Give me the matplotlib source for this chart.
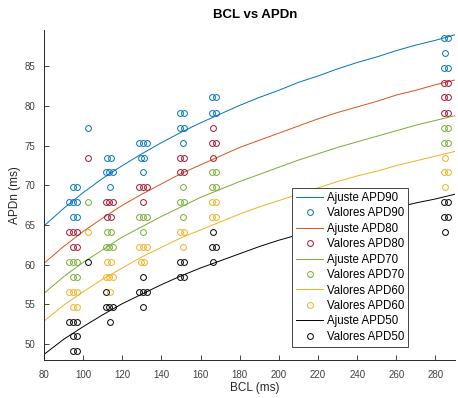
import matplotlib
matplotlib.use("Agg")
import matplotlib.pyplot as plt

plt.rcParams['font.family'] = ['Liberation Sans', 'DejaVu Sans']

# Measured APD values (ms) against basic cycle length (ms)
bcl90 = [94.7, 96.7, 93.0, 95.0, 97.0, 94.7, 96.7, 102.3,
         112.0, 114.0, 111.5, 113.4, 115.1, 113.7,
         128.5, 130.6, 132.4, 129.4, 131.1, 130.7,
         149.6, 151.4, 149.6, 151.4, 151.0,
         165.8, 167.8, 165.8, 167.8,
         284.2, 286.3, 284.8, 284.2, 286.3]
apd90 = [69.8, 69.8, 67.9, 67.9, 67.9, 66.0, 66.0, 77.3,
         73.5, 73.5, 71.7, 71.7, 71.7, 69.8,
         75.4, 75.4, 75.4, 73.5, 73.5, 71.7,
         79.2, 79.2, 77.3, 77.3, 75.4,
         81.1, 81.1, 79.2, 79.2,
         88.6, 88.6, 86.7, 84.8, 84.8]

bcl80 = [93.0, 95.0, 97.0, 94.7, 96.7, 102.3,
         111.5, 113.4, 115.1, 112.0, 114.0,
         128.5, 130.6, 132.4, 130.7,
         149.6, 151.4, 149.6, 151.4,
         166.1, 165.8, 167.8, 166.1,
         284.2, 286.3, 284.2, 286.3, 284.2, 286.3]
apd80 = [64.1, 64.1, 64.1, 62.2, 62.2, 73.5,
         67.9, 67.9, 67.9, 66.0, 66.0,
         69.8, 69.8, 69.8, 67.9,
         73.5, 73.5, 71.7, 71.7,
         77.3, 75.4, 75.4, 73.5,
         82.9, 82.9, 81.1, 81.1, 79.2, 79.2]

bcl70 = [93.0, 95.0, 97.0, 94.7, 96.7, 102.3,
         112.0, 114.0, 111.5, 113.4, 115.1,
         128.5, 130.6, 132.4, 130.7,
         151.0, 149.6, 151.4, 151.0,
         165.8, 167.8, 165.8, 167.8,
         284.2, 286.3, 284.2, 286.3]
apd70 = [60.4, 60.4, 60.4, 58.5, 58.5, 67.9,
         64.1, 64.1, 62.2, 62.2, 62.2,
         66.0, 66.0, 66.0, 64.1,
         69.8, 67.9, 67.9, 66.0,
         71.7, 71.7, 69.8, 69.8,
         77.3, 77.3, 75.4, 75.4]

bcl60 = [93.0, 95.0, 97.0, 94.7, 96.7, 102.3,
         112.0, 114.0, 111.5, 113.4, 115.1, 113.7,
         128.5, 130.6, 132.4, 129.4, 131.1,
         149.6, 151.4, 151.0,
         165.8, 167.8, 165.8, 167.8,
         284.8, 284.2, 286.3, 284.8]
apd60 = [56.6, 56.6, 56.6, 54.7, 54.7, 64.1,
         60.4, 60.4, 58.5, 58.5, 58.5, 56.6,
         62.2, 62.2, 62.2, 60.4, 60.4,
         64.1, 64.1, 62.2,
         67.9, 67.9, 66.0, 66.0,
         73.5, 71.7, 71.7, 69.8]

bcl50 = [93.0, 95.0, 97.0, 94.7, 96.7, 94.7, 96.7, 102.3,
         111.7, 111.5, 113.4, 115.1, 113.7,
         130.7, 128.5, 130.6, 132.4, 130.7,
         149.6, 151.4, 149.6, 151.4,
         166.1, 165.8, 167.8, 166.1,
         284.2, 286.3, 284.2, 286.3, 284.8]
apd50 = [52.8, 52.8, 52.8, 51.0, 51.0, 49.1, 49.1, 60.4,
         56.6, 54.7, 54.7, 54.7, 52.8,
         58.5, 56.6, 56.6, 56.6, 54.7,
         60.4, 60.4, 58.5, 58.5,
         64.1, 62.2, 62.2, 60.4,
         67.9, 67.9, 66.0, 66.0, 64.1]

# Fitted restitution curves, sampled every 10 ms of BCL
fit_bcl = [80, 90, 100, 110, 120, 130, 140, 150, 160, 170, 180,
           190, 200, 210, 220, 230, 240, 250, 260, 270, 280, 290]
fit90 = [64.9, 67.1, 69.1, 70.9, 72.5, 74.0, 75.4, 76.7, 77.9, 79.0, 80.1,
         81.1, 82.0, 83.0, 83.8, 84.7, 85.5, 86.2, 87.0, 87.7, 88.3, 89.0]
fit80 = [60.2, 62.3, 64.2, 65.9, 67.5, 68.9, 70.2, 71.5, 72.6, 73.7, 74.8,
         75.7, 76.6, 77.5, 78.4, 79.2, 79.9, 80.6, 81.4, 82.0, 82.7, 83.3]
fit70 = [56.4, 58.5, 60.3, 61.9, 63.5, 64.8, 66.1, 67.3, 68.5, 69.5, 70.5,
         71.4, 72.3, 73.2, 74.0, 74.8, 75.5, 76.2, 76.9, 77.6, 78.2, 78.8]
fit60 = [52.9, 54.9, 56.6, 58.2, 59.6, 61.0, 62.2, 63.4, 64.4, 65.4, 66.4,
         67.3, 68.1, 68.9, 69.7, 70.5, 71.2, 71.8, 72.5, 73.1, 73.7, 74.3]
fit50 = [48.7, 50.6, 52.2, 53.7, 55.1, 56.3, 57.5, 58.6, 59.6, 60.5, 61.4,
         62.3, 63.1, 63.8, 64.6, 65.3, 65.9, 66.6, 67.2, 67.8, 68.3, 68.9]

series = [
    (fit90, bcl90, apd90, '#0072BD', '#0072BD', 'Ajuste APD90', 'Valores APD90'),
    (fit80, bcl80, apd80, '#D95319', '#A2142F', 'Ajuste APD80', 'Valores APD80'),
    (fit70, bcl70, apd70, '#77AC30', '#77AC30', 'Ajuste APD70', 'Valores APD70'),
    (fit60, bcl60, apd60, '#EDB120', '#EDB120', 'Valores APD60', 'Valores APD60'),
    (fit50, bcl50, apd50, '#000000', '#000000', 'Ajuste APD50', 'Valores APD50'),
]

fig = plt.figure(figsize=(4.58, 3.98), dpi=100)
ax = fig.add_axes([44 / 458, 38 / 398, 411 / 458, 330 / 398])

for fit, xs, ys, lc, mc, lab_fit, lab_pts in series:
    ax.plot(fit_bcl, fit, color=lc, lw=0.7, label=lab_fit)
    ax.plot(xs, ys, linestyle='none', marker='o', markersize=4.2,
            markerfacecolor='none', markeredgecolor=mc, markeredgewidth=0.7,
            label=lab_pts)

ax.set_xlim(80, 290)
ax.set_ylim(48.0, 89.6)
ax.set_xticks(range(80, 281, 20))
ax.set_yticks(range(50, 86, 5))

for side in ('top', 'right'):
    ax.spines[side].set_visible(False)
for side in ('left', 'bottom'):
    ax.spines[side].set_color('#262626')
    ax.spines[side].set_linewidth(0.7)

ax.tick_params(axis='both', direction='in', length=3.5, width=0.6,
               colors='#262626', labelsize=7)
ax.tick_params(axis='x', pad=7)
ax.tick_params(axis='y', pad=6.5)
for lbl in ax.get_xticklabels() + ax.get_yticklabels():
    lbl.set_color('#404040')

ax.set_xlabel('BCL (ms)', fontsize=8.5, color='#262626')
ax.xaxis.set_label_coords(0.513, -0.066)
ax.set_ylabel('APDn (ms)', fontsize=8.5, color='#262626')
ax.yaxis.set_label_coords(-0.055, 0.5)
ax.set_title('BCL vs APDn', fontsize=9.5, fontweight='bold', x=0.5146, pad=9)

leg = ax.legend(loc='upper left', bbox_to_anchor=(0.6027, 0.522),
                borderaxespad=0, fontsize=8.3, labelspacing=0.3,
                handlelength=2.4, handletextpad=0.3, borderpad=0.35,
                fancybox=False, framealpha=1, edgecolor='#262626')
leg.get_frame().set_linewidth(0.6)

fig.savefig('out.png', dpi=100)
